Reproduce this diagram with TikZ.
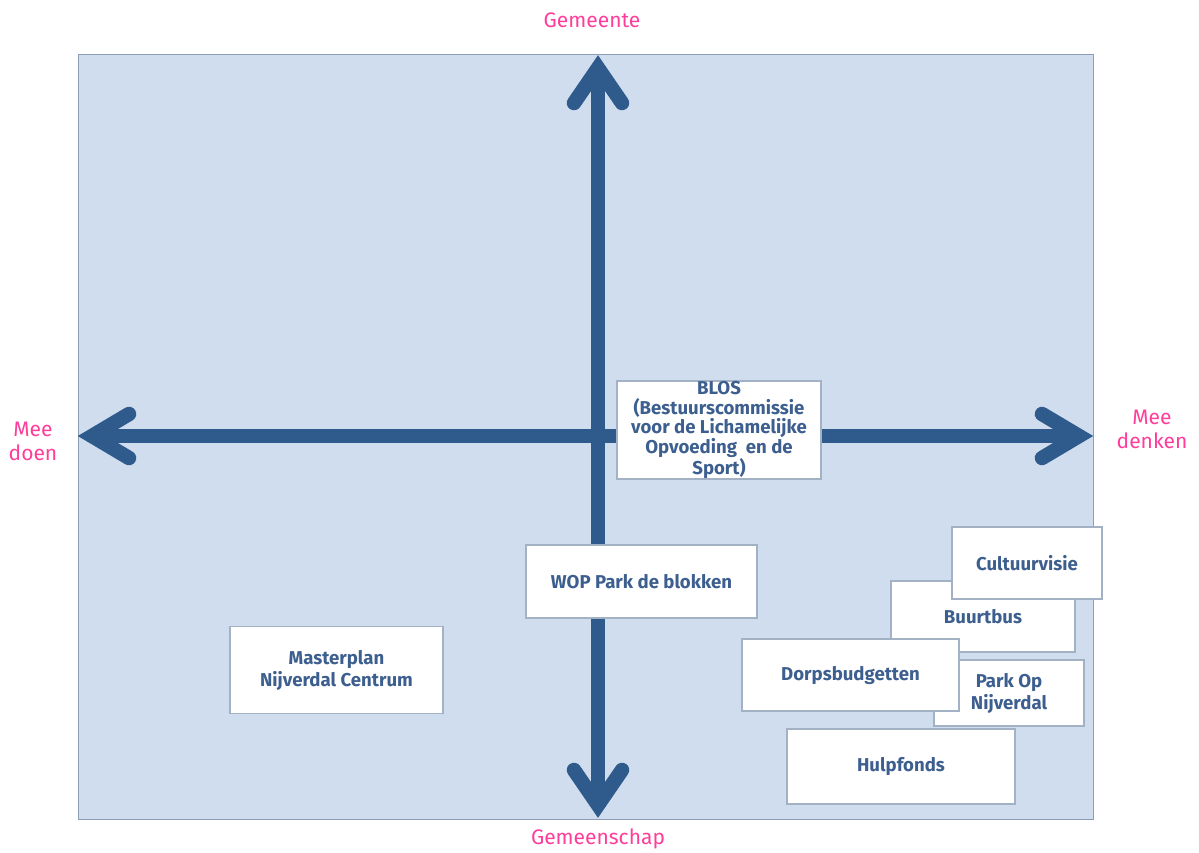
\documentclass[tikz,border=0pt]{standalone}
\usepackage{fontspec}
\setmainfont{Fira Sans}
\definecolor{bgblue}{HTML}{D0DDEE}
\definecolor{bgborder}{HTML}{8C9DB5}
\definecolor{arrowblue}{HTML}{2F5A8C}
\definecolor{textblue}{HTML}{3D5F8F}
\definecolor{boxborder}{HTML}{A3B1C4}
\definecolor{labelpink}{HTML}{FF3D9A}
\tikzset{
  itembox/.style={draw=boxborder, line width=1.4pt, fill=white, text=textblue,
    font=\bfseries\fontsize{18.6}{22}\selectfont, align=center, inner sep=0pt},
  axislabel/.style={text=labelpink, font=\fontsize{21}{24}\selectfont, align=center, inner sep=0pt},
  shaft/.style={draw=arrowblue, line width=14pt},
  head/.style={draw=arrowblue, line width=14.5pt, line cap=round, line join=miter}
}
\begin{document}
\begin{tikzpicture}[x=1pt,y=-1pt]
\useasboundingbox (0,0) rectangle (1199,852);
\fill[white] (0,0) rectangle (1199,852);
\draw[fill=bgblue, draw=bgborder, line width=1pt] (78,54) rectangle (1093,819);

% axes
\coordinate (topv) at (598,68);
\coordinate (botv) at (598,805);
\coordinate (lefth) at (92,436);
\coordinate (righth) at (1079,436);
\draw[shaft] (topv) -- (botv);
\draw[shaft] (lefth) -- (righth);
\draw[head] (574,103) -- (topv) -- (622,103);
\draw[head] (574,770) -- (botv) -- (622,770);
\draw[head] (129,414) -- (lefth) -- (129,458);
\draw[head] (1042,414) -- (righth) -- (1042,458);

% axis labels
\node[axislabel] (gemeente) at (592,20) {Gemeente};
\node[axislabel] (gemeenschap) at (598,839) {Gemeenschap};
\node[axislabel] (meedoen) at (33,441) {Mee\\doen};
\node[axislabel] (meedenken) at (1152,429) {Mee\\denken};

% boxes
\node[itembox, minimum width=204pt, minimum height=98pt, font=\bfseries\fontsize{18.6}{19.8}\selectfont] (blos) at (719,430)
  {BLOS\\(Bestuurscommissie\\voor de Lichamelijke\\Opvoeding\ \ en de\\Sport)};
\node[itembox, minimum width=231pt, minimum height=73pt] (wop) at (641.5,581.5) {WOP Park de blokken};
\node[itembox, minimum width=213pt, minimum height=87pt] (master) at (336.5,670) {Masterplan\\Nijverdal Centrum};
\node[itembox, minimum width=184pt, minimum height=71pt] (buurtbus) at (983,616.5) {Buurtbus};
\node[itembox, minimum width=150pt, minimum height=72pt] (cultuur) at (1027,563) {Cultuurvisie};
\node[itembox, minimum width=150pt, minimum height=66pt] (park) at (1009,693) {Park Op\\Nijverdal};
\node[itembox, minimum width=217pt, minimum height=72pt] (dorps) at (850.5,675) {Dorpsbudgetten};
\node[itembox, minimum width=228pt, minimum height=75pt] (hulp) at (901,766.5) {Hulpfonds};
\end{tikzpicture}
\end{document}
